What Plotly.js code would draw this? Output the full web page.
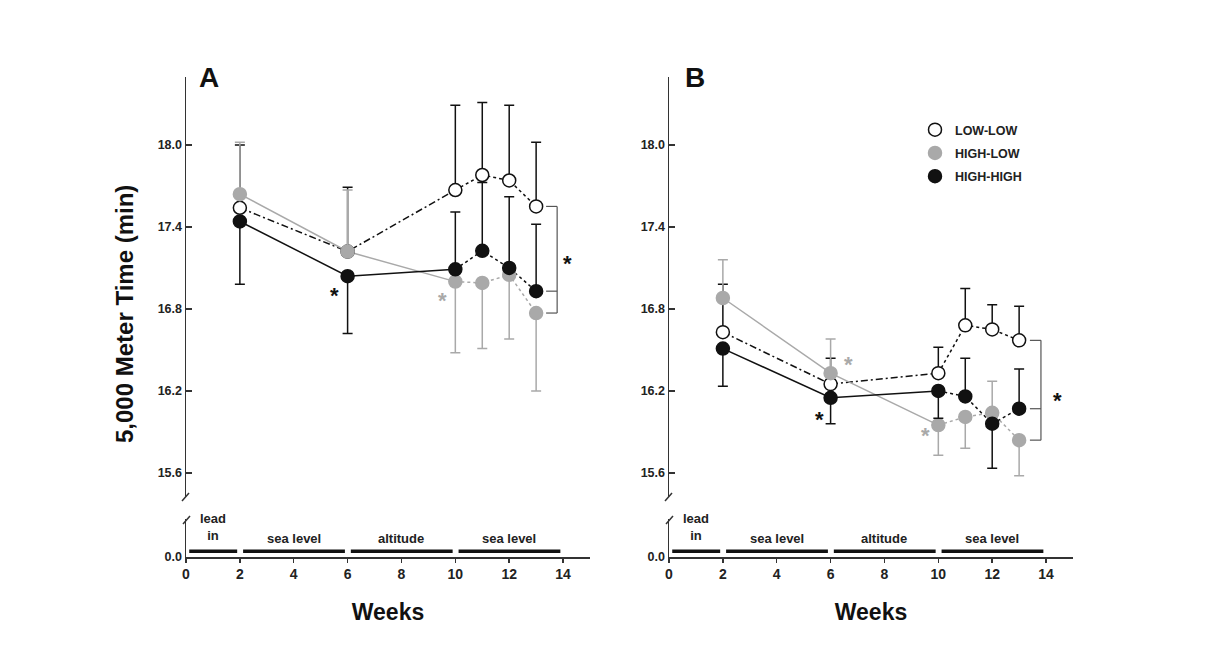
<!DOCTYPE html>
<html><head><meta charset="utf-8">
<script src="https://cdn.plot.ly/plotly-3.0.1.min.js"></script>
<style>html,body{margin:0;padding:0;background:#fff}#chart{width:1224px;height:668px}</style>
</head><body><div id="chart"></div>
<script>
// ---- data ----
const weeks = [2, 6, 10, 11, 12, 13];
const seriesNames = ["LOW-LOW", "HIGH-LOW", "HIGH-HIGH"];

// Panel A
const lowLowA = [17.54, 17.22, 17.67, 17.78, 17.74, 17.55];
const lowLowA_up = [0.46, 0.47, 0.62, 0.53, 0.55, 0.47];
const lowLowA_down = [0, 0, 0, 0, 0, 0];
const highLowA = [17.64, 17.22, 17.00, 16.99, 17.05, 16.77];
const highLowA_up = [0.38, 0.45, 0, 0, 0, 0];
const highLowA_down = [0, 0, 0.52, 0.48, 0.47, 0.57];
const highHighA = [17.44, 17.04, 17.09, 17.225, 17.10, 16.93];
const highHighA_up = [0, 0, 0.42, 0.50, 0.52, 0.49];
const highHighA_down = [0.46, 0.42, 0, 0, 0, 0];

// Panel B
const lowLowB = [16.63, 16.25, 16.33, 16.68, 16.65, 16.57];
const lowLowB_up = [0.35, 0.19, 0.19, 0.27, 0.18, 0.25];
const lowLowB_down = [0, 0, 0, 0, 0, 0];
const highLowB = [16.88, 16.33, 15.95, 16.01, 16.04, 15.84];
const highLowB_up = [0.28, 0.25, 0, 0, 0.23, 0];
const highLowB_down = [0, 0, 0.22, 0.23, 0, 0.26];
const highHighB = [16.51, 16.15, 16.20, 16.16, 15.96, 16.07];
const highHighB_up = [0, 0, 0, 0.28, 0, 0.29];
const highHighB_down = [0.275, 0.19, 0.20, 0, 0.325, 0];

// Training phases
const phaseLabels = ["lead<br>in", "sea level", "altitude", "sea level"];
const phaseStart = [0, 2, 6, 10];
const phaseEnd = [2, 6, 10, 14];

const yTicks = [15.6, 16.2, 16.8, 17.4, 18.0];
const xTicks = [0, 2, 4, 6, 8, 10, 12, 14];

// ---- styling / layout ----
const W = 1224, H = 668;
const px = v => v / W, py = v => 1 - v / H;
const FONT = "Arial, 'Liberation Sans', sans-serif";
const GRAY = "#a9a9a9", BLACK = "#111111", AXC = "#333333";

const traces = [];
function addLines(xa, ya, vals, lineColor, dash1, dash2) {
  traces.push({x: weeks.slice(0, 3), y: vals.slice(0, 3), xaxis: xa, yaxis: ya, mode: "lines",
    line: {color: lineColor, width: 1.5, dash: dash1}, showlegend: false, hoverinfo: "skip"});
  traces.push({x: weeks.slice(2), y: vals.slice(2), xaxis: xa, yaxis: ya, mode: "lines",
    line: {color: lineColor, width: 1.5, dash: dash2}, showlegend: false, hoverinfo: "skip"});
}
function addMarkers(xa, ya, vals, up, down, fill, outline, errColor, name, showLeg) {
  traces.push({x: weeks, y: vals, xaxis: xa, yaxis: ya, mode: "markers", name: "<b>" + name + "</b>",
    legendgroup: name, showlegend: showLeg,
    marker: {size: 13, color: fill, line: {color: outline, width: 1.5}},
    error_y: {type: "data", symmetric: false, array: up, arrayminus: down, color: errColor, thickness: 1.5, width: 5}});
}
const dd = "7px,3px,2px,3px";
// lines
addLines("x", "y", lowLowA, BLACK, dd, "dot");
addLines("x", "y", highLowA, GRAY, "solid", "dot");
addLines("x", "y", highHighA, BLACK, "solid", "dot");
addLines("x2", "y3", lowLowB, BLACK, dd, "dot");
addLines("x2", "y3", highLowB, GRAY, "solid", "dot");
addLines("x2", "y3", highHighB, BLACK, "solid", "dot");
// markers + error bars
addMarkers("x", "y", lowLowA, lowLowA_up, lowLowA_down, "#ffffff", BLACK, BLACK, seriesNames[0], false);
addMarkers("x", "y", highLowA, highLowA_up, highLowA_down, GRAY, GRAY, GRAY, seriesNames[1], false);
addMarkers("x", "y", highHighA, highHighA_up, highHighA_down, BLACK, BLACK, BLACK, seriesNames[2], false);
addMarkers("x2", "y3", lowLowB, lowLowB_up, lowLowB_down, "#ffffff", BLACK, BLACK, seriesNames[0], true);
addMarkers("x2", "y3", highLowB, highLowB_up, highLowB_down, GRAY, GRAY, GRAY, seriesNames[1], true);
addMarkers("x2", "y3", highHighB, highHighB_up, highHighB_down, BLACK, BLACK, BLACK, seriesNames[2], true);

const upperDomain = [py(497), py(77)];
const lowerDomain = [py(557), py(519)];
const xDomA = [px(186), px(590)];
const xDomB = [px(669), px(1073)];

function xAxis(dom, anchor) {
  return {domain: dom, anchor: anchor, range: [0, 15], tickvals: xTicks, ticks: "outside", ticklen: 4,
    tickwidth: 1.5, tickcolor: AXC, showline: true, linecolor: AXC, linewidth: 1.5, showgrid: false, zeroline: false,
    tickfont: {family: FONT, size: 14, color: "#222", weight: "bold"},
    title: {text: "<b>Weeks</b>", font: {family: FONT, size: 23, color: "#111"}, standoff: 22}};
}
function yUpper(anchor) {
  return {domain: upperDomain, anchor: anchor, range: [15.424, 18.497], tickvals: yTicks, tickformat: ".1f",
    ticks: "inside", ticklen: 6, tickwidth: 1.5, tickcolor: AXC, showline: true, linecolor: AXC, linewidth: 1.5,
    showgrid: false, zeroline: false, tickfont: {family: FONT, size: 12.5, color: "#222", weight: "bold"}};
}
function yLower(anchor) {
  return {domain: lowerDomain, anchor: anchor, range: [0, 1], tickvals: [0], ticktext: ["0.0"],
    ticks: "inside", ticklen: 5, tickwidth: 1.5, tickcolor: AXC, showline: true, linecolor: AXC, linewidth: 1.5,
    showgrid: false, zeroline: false, tickfont: {family: FONT, size: 12.5, color: "#222", weight: "bold"}};
}

const shapes = [];
const annotations = [];
function panelDecor(xa, ya, yl, ll, hl, hh, bx, tx, xPix) {
  // phase bars + labels
  for (let i = 0; i < phaseLabels.length; i++) {
    shapes.push({type: "line", xref: xa, yref: yl, x0: phaseStart[i] + 0.12, x1: phaseEnd[i] - 0.1, y0: 0.15, y1: 0.15,
      line: {color: "#111", width: 3.5}});
    annotations.push({xref: xa, yref: yl, x: (phaseStart[i] + phaseEnd[i]) / 2, y: i === 0 ? 0.78 : 0.5,
      xanchor: "center", yanchor: "middle",
      text: "<b>" + phaseLabels[i] + "</b>", showarrow: false, font: {family: FONT, size: 13, color: "#222"}});
  }
  // significance bracket
  const n = weeks.length - 1;
  shapes.push({type: "line", xref: xa, yref: ya, x0: bx, x1: bx, y0: ll[n], y1: hl[n], line: {color: "#555", width: 1.2}});
  [ll[n], hh[n], hl[n]].forEach(v => shapes.push({type: "line", xref: xa, yref: ya, x0: tx, x1: bx, y0: v, y1: v,
    line: {color: "#555", width: 1.2}}));
  // axis break marks
  shapes.push({type: "line", xref: "paper", yref: "paper", x0: px(xPix - 4), x1: px(xPix + 3), y0: py(501), y1: py(493),
    line: {color: AXC, width: 1.5}});
  shapes.push({type: "line", xref: "paper", yref: "paper", x0: px(xPix - 3), x1: px(xPix + 4), y0: py(524), y1: py(516),
    line: {color: AXC, width: 1.5}});
}
panelDecor("x", "y", "y2", lowLowA, highLowA, highHighA, 13.78, 13.37, 186);
panelDecor("x2", "y3", "y4", lowLowB, highLowB, highHighB, 13.81, 13.4, 669);

function star(xa, ya, x, y, color) {
  annotations.push({xref: xa, yref: ya, x: x, y: y, text: "<b>*</b>", showarrow: false, yshift: -4,
    xanchor: "center", yanchor: "middle", font: {family: FONT, size: 22, color: color}});
}
star("x", "y", 5.53, 16.925, BLACK);
star("x", "y", 9.54, 16.888, GRAY);
star("x", "y", 14.18, 17.16, BLACK);
star("x2", "y3", 5.57, 16.02, BLACK);
star("x2", "y3", 6.65, 16.42, GRAY);
star("x2", "y3", 9.51, 15.90, GRAY);
star("x2", "y3", 14.44, 16.16, BLACK);

annotations.push({xref: "paper", yref: "paper", x: px(209), y: py(77), xanchor: "center", yanchor: "middle",
  text: "<b>A</b>", showarrow: false, font: {family: FONT, size: 28, color: "#111"}});
annotations.push({xref: "paper", yref: "paper", x: px(695), y: py(77), xanchor: "center", yanchor: "middle",
  text: "<b>B</b>", showarrow: false, font: {family: FONT, size: 28, color: "#111"}});
annotations.push({xref: "paper", yref: "paper", x: px(124), y: py(314), xanchor: "center", yanchor: "middle",
  text: "<b>5,000 Meter Time (min)</b>", textangle: -90, showarrow: false,
  font: {family: FONT, size: 24, color: "#111"}});

const layout = {
  width: W, height: H, margin: {l: 0, r: 0, t: 0, b: 0},
  paper_bgcolor: "#ffffff", plot_bgcolor: "rgba(0,0,0,0)",
  font: {family: FONT, color: "#222"},
  xaxis: xAxis(xDomA, "y2"),
  xaxis2: xAxis(xDomB, "y4"),
  yaxis: yUpper("x"),
  yaxis2: yLower("x"),
  yaxis3: yUpper("x2"),
  yaxis4: yLower("x2"),
  showlegend: true,
  legend: {x: px(915), y: py(115), xanchor: "left", yanchor: "top", bgcolor: "rgba(0,0,0,0)",
    font: {family: FONT, size: 12.5, color: "#222"}, tracegroupgap: 4, itemwidth: 30},
  shapes: shapes, annotations: annotations
};
Plotly.newPlot("chart", traces, layout, {displayModeBar: false, staticPlot: true});
</script></body></html>
